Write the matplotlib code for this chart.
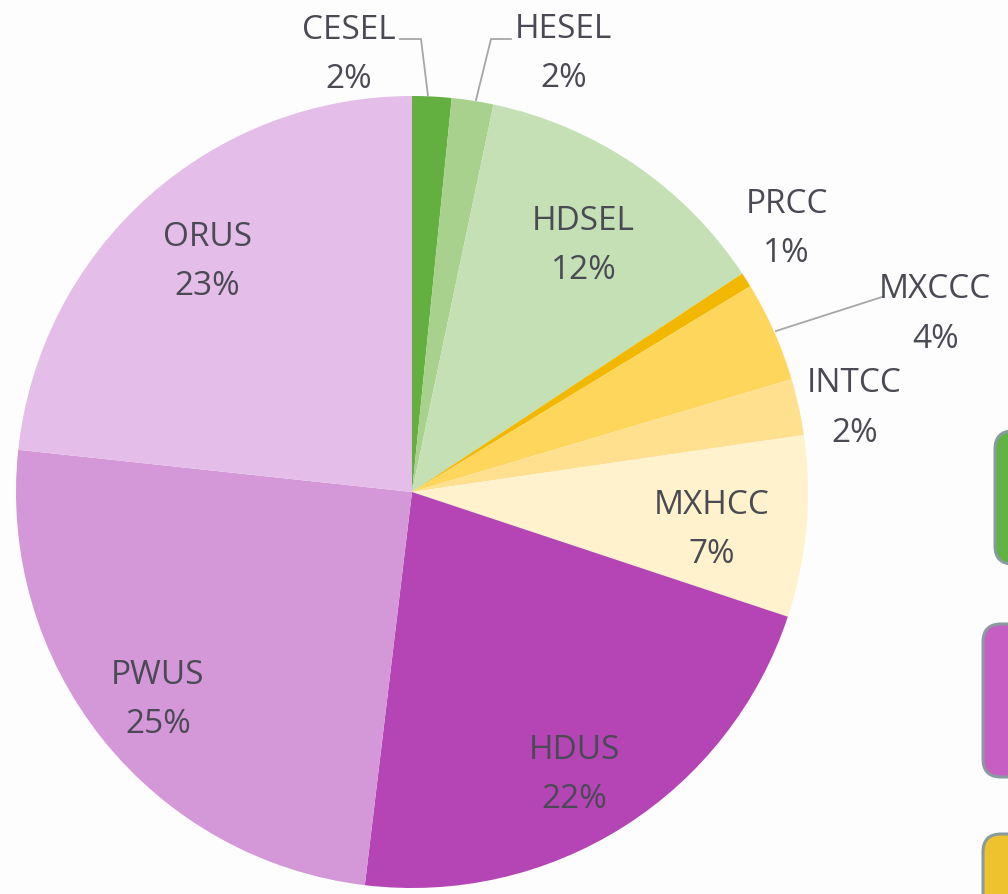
import numpy as np
import matplotlib.pyplot as plt
from matplotlib.patches import FancyBboxPatch

plt.rcParams['font.family'] = ['Open Sans', 'DejaVu Sans']

names = ['CESEL', 'HESEL', 'HDSEL', 'PRCC', 'MXCCC', 'INTCC', 'MXHCC', 'HDUS', 'PWUS', 'ORUS']
shares = [1.6, 1.7, 12.4, 0.6, 4.1, 2.3, 7.4, 21.8, 24.8, 23.3]
colors = ['#63AF40', '#A9D18E', '#C5E0B4', '#F2B800', '#FFD65C', '#FFE08F',
          '#FFF2CC', '#B545B5', '#D497D8', '#E4BDE8']

W, H = 1008, 895
cx, cy, R = 412, 493, 396

# label placement: distance (in radii) and angle offset from wedge middle
lab_dist = [1.13, 1.185, 0.77, 1.165, 1.40, 1.14, 0.76, 0.81, 0.82, 0.79]
lab_shift = [-11.0, 10.0, 0.0, -3.3, 4.6, 1.0, 1.0, 2.0, 0.0, 1.0]

fig = plt.figure(figsize=(W / 100, H / 100), dpi=100)
fig.patch.set_facecolor('#FDFDFD')
ax = fig.add_axes([0, 0, 1, 1])
ax.axis('off')

wedges, _ = ax.pie(shares, colors=colors, startangle=90, counterclock=False,
                   center=(cx, H - cy), radius=R, wedgeprops=dict(linewidth=0))
ax.set_xlim(0, W)
ax.set_ylim(0, H)
ax.set_aspect('equal')

tot = sum(shares)
start = 0.0
for i, (n, s) in enumerate(zip(names, shares)):
    mid = start + s / tot * 360 / 2
    start += s / tot * 360
    a = np.radians(mid + lab_shift[i])
    x = cx + lab_dist[i] * R * np.sin(a)
    y = (H - cy) + lab_dist[i] * R * np.cos(a) - 5
    ax.text(x, y, f'{n}\n{s:.0f}%', ha='center', va='center', fontsize=24,
            color='#4A4A55', linespacing=1.65, clip_on=False)

# leader lines (pixel coords)
leaders = [[(428, 97), (421, 40), (400, 40)],
           [(476, 101), (491, 40), (511, 40)],
           [(776, 332), (882, 298)]]
for pts in leaders:
    xs = [p[0] for p in pts]
    ys = [H - p[1] for p in pts]
    ax.plot(xs, ys, color='#A6A6A6', lw=1.3)

# partly visible legend boxes at the right edge
boxes = [(995, 432, 565, '#62B245'), (983, 625, 778, '#C75EC4'), (983, 835, 960, '#EEC12E')]
for x0, top, bot, fc in boxes:
    p = FancyBboxPatch((x0, H - bot), 200, bot - top,
                       boxstyle='round,pad=0,rounding_size=18',
                       fc=fc, ec='#8A9BA0', lw=2.2, clip_on=True)
    ax.add_patch(p)

fig.savefig('out.png', dpi=100, facecolor=fig.get_facecolor())
